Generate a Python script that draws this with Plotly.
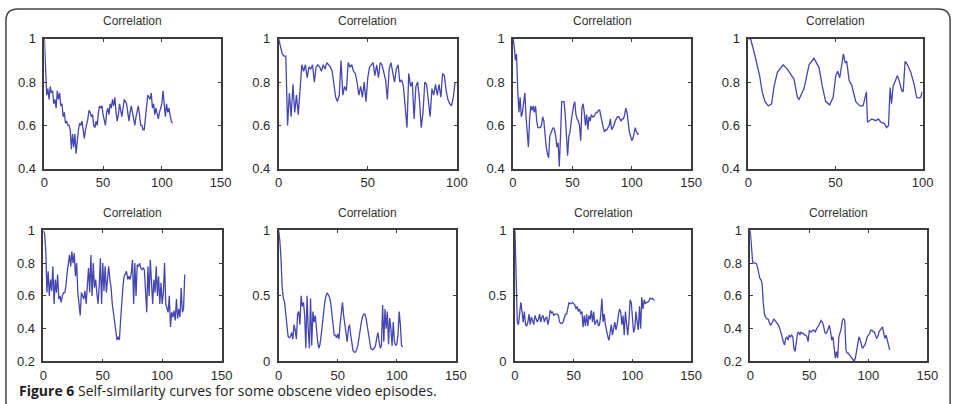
import plotly.graph_objects as go

W, H = 967, 404
TITLE = "Correlation"
CAPTION = "<b>Figure 6</b> Self-similarity curves for some obscene video episodes."

# ---- series values (index = lag, starting at 0) ----
y1 = [1.00, 0.88, 0.74, 0.77, 0.72, 0.78, 0.75, 0.76, 0.70, 0.72, 0.68, 0.76, 0.72, 0.75, 0.69, 0.70,
      0.64, 0.66, 0.61, 0.62, 0.60, 0.60, 0.58, 0.49, 0.56, 0.50, 0.56, 0.47, 0.55, 0.58, 0.61, 0.60,
      0.62, 0.57, 0.54, 0.58, 0.60, 0.63, 0.67, 0.66, 0.64, 0.65, 0.60, 0.59, 0.62, 0.60, 0.66, 0.69,
      0.68, 0.69, 0.65, 0.62, 0.60, 0.66, 0.68, 0.65, 0.70, 0.68, 0.72, 0.69, 0.73, 0.66, 0.62, 0.65,
      0.70, 0.67, 0.64, 0.68, 0.72, 0.71, 0.70, 0.66, 0.62, 0.66, 0.69, 0.66, 0.62, 0.60, 0.64, 0.67,
      0.69, 0.65, 0.60, 0.60, 0.58, 0.58, 0.64, 0.70, 0.74, 0.73, 0.72, 0.75, 0.68, 0.70, 0.65, 0.68,
      0.66, 0.63, 0.66, 0.68, 0.70, 0.76, 0.70, 0.64, 0.70, 0.66, 0.68, 0.64, 0.62, 0.61]

y2 = [1.00, 0.97, 0.93, 0.92, 0.92, 0.60, 0.75, 0.64, 0.79, 0.66, 0.74, 0.65, 0.77, 0.88, 0.85, 0.88,
      0.82, 0.87, 0.86, 0.88, 0.80, 0.87, 0.88, 0.87, 0.85, 0.88, 0.86, 0.89, 0.88, 0.87, 0.85, 0.80,
      0.73, 0.71, 0.74, 0.90, 0.74, 0.78, 0.76, 0.89, 0.87, 0.88, 0.85, 0.84, 0.80, 0.74, 0.78, 0.73,
      0.80, 0.71, 0.82, 0.87, 0.88, 0.89, 0.83, 0.88, 0.82, 0.89, 0.88, 0.85, 0.81, 0.72, 0.86, 0.89,
      0.84, 0.80, 0.86, 0.88, 0.80, 0.81, 0.78, 0.68, 0.59, 0.84, 0.78, 0.80, 0.63, 0.78, 0.80, 0.72,
      0.59, 0.66, 0.80, 0.79, 0.72, 0.64, 0.77, 0.74, 0.79, 0.74, 0.79, 0.73, 0.84, 0.83, 0.76, 0.72,
      0.70, 0.69, 0.73, 0.80]

y3 = [1.00, 0.97, 0.90, 0.93, 0.76, 0.66, 0.73, 0.64, 0.66, 0.70, 0.75, 0.64, 0.55, 0.50, 0.63, 0.69,
      0.67, 0.69, 0.66, 0.69, 0.62, 0.59, 0.59, 0.59, 0.60, 0.64, 0.62, 0.55, 0.50, 0.47, 0.45, 0.55,
      0.57, 0.58, 0.59, 0.58, 0.55, 0.50, 0.52, 0.41, 0.55, 0.71, 0.71, 0.71, 0.65, 0.55, 0.46, 0.55,
      0.57, 0.62, 0.66, 0.69, 0.71, 0.65, 0.63, 0.62, 0.60, 0.53, 0.68, 0.70, 0.66, 0.60, 0.65, 0.58,
      0.64, 0.62, 0.65, 0.64, 0.64, 0.65, 0.66, 0.66, 0.67, 0.67, 0.64, 0.62, 0.59, 0.57, 0.58, 0.58,
      0.59, 0.60, 0.63, 0.58, 0.59, 0.60, 0.62, 0.63, 0.64, 0.64, 0.63, 0.62, 0.63, 0.63, 0.65, 0.68,
      0.66, 0.61, 0.57, 0.55, 0.53, 0.54, 0.56, 0.59, 0.57, 0.56, 0.56]

x4 = [0, 1.3, 3.3, 5.2, 6.5, 8, 9.6, 11.5, 13.4, 14.8, 16.7, 20, 22.4, 24.9, 26.2, 28.2, 29.1, 32,
      34.9, 37.7, 40.6, 42.5, 44.4, 46.7, 48.7, 50.2, 51.3, 52.5, 53.4, 54.6, 55.6, 56.5, 57.9, 59.4,
      61.7, 64, 65.9, 67.8, 68.4, 70.9, 73.2, 74.7, 76, 78, 79.3, 80.5, 80.8, 81.4, 82.2, 83.1, 85.6,
      86.6, 88.1, 88.9, 90, 91.4, 93.3, 95.2, 96.6, 98.1, 99, 99.8]
y4 = [1.00, 1.00, 0.94, 0.88, 0.83, 0.755, 0.71, 0.69, 0.70, 0.78, 0.845, 0.88, 0.86, 0.83, 0.815,
      0.73, 0.72, 0.77, 0.88, 0.91, 0.867, 0.78, 0.71, 0.695, 0.73, 0.83, 0.85, 0.82, 0.86, 0.93, 0.89,
      0.896, 0.807, 0.785, 0.71, 0.69, 0.69, 0.755, 0.615, 0.63, 0.622, 0.63, 0.615, 0.61, 0.59, 0.60,
      0.66, 0.775, 0.70, 0.78, 0.83, 0.807, 0.76, 0.755, 0.896, 0.88, 0.844, 0.79, 0.73, 0.726, 0.73,
      0.755]

y5 = [1.00, 0.98, 0.88, 0.62, 0.75, 0.60, 0.70, 0.63, 0.78, 0.55, 0.70, 0.62, 0.73, 0.58, 0.60, 0.56,
      0.60, 0.62, 0.62, 0.66, 0.74, 0.82, 0.85, 0.78, 0.87, 0.80, 0.86, 0.72, 0.80, 0.62, 0.56, 0.48,
      0.62, 0.60, 0.58, 0.63, 0.55, 0.66, 0.77, 0.62, 0.85, 0.60, 0.80, 0.65, 0.70, 0.62, 0.55, 0.66,
      0.83, 0.55, 0.80, 0.63, 0.78, 0.62, 0.72, 0.78, 0.70, 0.65, 0.55, 0.50, 0.44, 0.37, 0.33, 0.35,
      0.33, 0.45, 0.58, 0.66, 0.72, 0.74, 0.75, 0.70, 0.72, 0.70, 0.74, 0.82, 0.55, 0.80, 0.60, 0.79,
      0.78, 0.80, 0.77, 0.76, 0.77, 0.76, 0.60, 0.50, 0.78, 0.60, 0.82, 0.70, 0.55, 0.70, 0.62, 0.78,
      0.60, 0.72, 0.55, 0.68, 0.55, 0.62, 0.80, 0.55, 0.52, 0.50, 0.60, 0.41, 0.50, 0.47, 0.51, 0.45,
      0.58, 0.46, 0.52, 0.47, 0.65, 0.50, 0.52, 0.73]

y6 = [1.00, 0.92, 0.78, 0.56, 0.48, 0.45, 0.36, 0.26, 0.19, 0.18, 0.19, 0.22, 0.17, 0.28, 0.24, 0.17,
      0.36, 0.38, 0.28, 0.50, 0.42, 0.45, 0.35, 0.10, 0.50, 0.25, 0.10, 0.48, 0.12, 0.38, 0.30, 0.35,
      0.22, 0.15, 0.10, 0.13, 0.20, 0.30, 0.40, 0.45, 0.50, 0.52, 0.51, 0.49, 0.45, 0.35, 0.25, 0.20,
      0.20, 0.18, 0.21, 0.17, 0.28, 0.38, 0.45, 0.35, 0.27, 0.18, 0.15, 0.25, 0.28, 0.20, 0.12, 0.08,
      0.07, 0.07, 0.09, 0.12, 0.18, 0.25, 0.30, 0.34, 0.36, 0.36, 0.33, 0.27, 0.20, 0.14, 0.10, 0.09,
      0.09, 0.10, 0.12, 0.18, 0.22, 0.15, 0.10, 0.12, 0.43, 0.15, 0.40, 0.25, 0.38, 0.13, 0.33, 0.25,
      0.12, 0.30, 0.15, 0.12, 0.13, 0.20, 0.38, 0.28, 0.12, 0.11]

y7 = [1.00, 0.67, 0.30, 0.28, 0.35, 0.45, 0.38, 0.30, 0.38, 0.28, 0.27, 0.30, 0.36, 0.28, 0.34, 0.30,
      0.28, 0.35, 0.33, 0.30, 0.32, 0.36, 0.30, 0.34, 0.35, 0.30, 0.33, 0.34, 0.28, 0.32, 0.39, 0.37,
      0.38, 0.35, 0.36, 0.36, 0.36, 0.35, 0.30, 0.29, 0.29, 0.30, 0.34, 0.36, 0.36, 0.42, 0.45, 0.44,
      0.44, 0.45, 0.44, 0.43, 0.40, 0.42, 0.38, 0.40, 0.36, 0.38, 0.26, 0.35, 0.27, 0.36, 0.27, 0.35,
      0.32, 0.39, 0.30, 0.38, 0.28, 0.30, 0.32, 0.27, 0.28, 0.35, 0.48, 0.30, 0.36, 0.28, 0.22, 0.19,
      0.16, 0.22, 0.28, 0.20, 0.25, 0.30, 0.24, 0.28, 0.35, 0.40, 0.38, 0.28, 0.35, 0.20, 0.38, 0.25,
      0.20, 0.30, 0.47, 0.45, 0.30, 0.22, 0.25, 0.38, 0.30, 0.24, 0.42, 0.25, 0.49, 0.40, 0.47, 0.44,
      0.45, 0.45, 0.46, 0.48, 0.48, 0.48, 0.47, 0.47]

y8 = [1.00, 0.90, 0.81, 0.80, 0.80, 0.80, 0.78, 0.73, 0.71, 0.70, 0.68, 0.56, 0.49, 0.47, 0.46, 0.46,
      0.44, 0.42, 0.43, 0.44, 0.46, 0.45, 0.44, 0.43, 0.42, 0.40, 0.38, 0.35, 0.32, 0.30, 0.34, 0.35,
      0.33, 0.36, 0.35, 0.36, 0.35, 0.28, 0.26, 0.33, 0.37, 0.38, 0.36, 0.38, 0.37, 0.37, 0.36, 0.36,
      0.35, 0.32, 0.39, 0.38, 0.38, 0.39, 0.39, 0.38, 0.40, 0.41, 0.42, 0.44, 0.45, 0.44, 0.42, 0.38,
      0.37, 0.38, 0.40, 0.42, 0.38, 0.33, 0.35, 0.28, 0.22, 0.26, 0.22, 0.35, 0.37, 0.40, 0.45, 0.46,
      0.45, 0.27, 0.25, 0.25, 0.24, 0.23, 0.22, 0.21, 0.20, 0.22, 0.27, 0.30, 0.35, 0.33, 0.30, 0.28,
      0.29, 0.30, 0.32, 0.35, 0.36, 0.37, 0.39, 0.39, 0.38, 0.38, 0.36, 0.34, 0.35, 0.38, 0.39, 0.40,
      0.41, 0.37, 0.34, 0.36, 0.33, 0.30, 0.27]

# ---- axis tick definitions ----
xt150 = [0, 50, 100, 150]
xt100 = [0, 50, 100]
yt04 = [0.4, 0.6, 0.8, 1]
yt04_lab = ["0.4", "0.6", "0.8", "1"]
yt02 = [0.2, 0.4, 0.6, 0.8, 1]
yt02_lab = ["0.2", "0.4", "0.6", "0.8", "1"]
yt00 = [0, 0.5, 1]
yt00_lab = ["0", "0.5", "1"]

series = [
    (list(range(len(y1))), y1, xt150, yt04, yt04_lab),
    (list(range(len(y2))), y2, xt100, yt04, yt04_lab),
    (list(range(len(y3))), y3, xt150, yt04, yt04_lab),
    (x4, y4, xt100, yt04, yt04_lab),
    (list(range(len(y5))), y5, xt150, yt02, yt02_lab),
    (list(range(len(y6))), y6, xt150, yt00, yt00_lab),
    (list(range(len(y7))), y7, xt150, yt00, yt00_lab),
    (list(range(len(y8))), y8, xt150, yt02, yt02_lab),
]

# pixel boxes of the axes (left, right, top, bottom)
boxes = [
    (41, 220, 33, 168), (279, 460, 33, 168), (517, 698, 33, 168), (756, 933, 33, 168),
    (40, 221, 232, 368), (279, 459, 232, 368), (519, 698, 232, 368), (758, 938, 232, 368),
]

def px(x):
    return x / W

def py(y):
    return 1 - y / H

LINE = "#4646b2"
FRAME = "#3c3c3c"
TXT = "#2a2a2a"

fig = go.Figure()
layout = {}
annotations = []
for i, ((xs, ys, xt, yt, ylab), (l, r, t, b)) in enumerate(zip(series, boxes)):
    n = "" if i == 0 else str(i + 1)
    fig.add_trace(go.Scatter(x=xs, y=ys, mode="lines", line=dict(color=LINE, width=1.3),
                             xaxis="x" + n, yaxis="y" + n, showlegend=False, hoverinfo="skip"))
    common = dict(showline=True, mirror="ticks", linecolor=FRAME, linewidth=1.5,
                  ticks="inside", ticklen=3, tickcolor=FRAME, tickwidth=1,
                  showgrid=False, zeroline=False,
                  tickfont=dict(family="Liberation Sans, Arial", size=13, color=TXT))
    layout["xaxis" + n] = dict(domain=[px(l), px(r)], anchor="y" + n, range=[xt[0], xt[-1]],
                               tickvals=xt, ticktext=[str(v) for v in xt],
                               ticklabelstandoff=1, **common)
    layout["yaxis" + n] = dict(domain=[py(b), py(t)], anchor="x" + n, range=[yt[0], yt[-1]],
                               tickvals=yt, ticktext=ylab, ticklabelstandoff=4, **common)
    ty = 15 if t < 100 else 214
    annotations.append(dict(text=TITLE, x=px((l + r) / 2), y=py(ty), xref="paper", yref="paper",
                            xanchor="center", yanchor="middle", showarrow=False,
                            font=dict(family="Liberation Sans, Arial", size=12, color="#333333")))

annotations.append(dict(text=CAPTION, x=px(13), y=py(386), xref="paper", yref="paper",
                        xanchor="left", yanchor="top", showarrow=False,
                        font=dict(family="Open Sans", size=14, color="#222222")))

# rounded frame around the figure (open at the bottom)
rr = 12
L, R, T, B = 2, 961, 2, 420
path = (f"M {px(L)},{py(B)} L {px(L)},{py(T + rr)} Q {px(L)},{py(T)} {px(L + rr)},{py(T)} "
        f"L {px(R - rr)},{py(T)} Q {px(R)},{py(T)} {px(R)},{py(T + rr)} L {px(R)},{py(B)}")

fig.update_layout(
    width=W, height=H, margin=dict(l=0, r=0, t=0, b=0),
    paper_bgcolor="white", plot_bgcolor="white",
    annotations=annotations,
    shapes=[dict(type="path", path=path, xref="paper", yref="paper",
                 line=dict(color="#444444", width=1.5))],
    **layout,
)

fig.write_html("out.html")
